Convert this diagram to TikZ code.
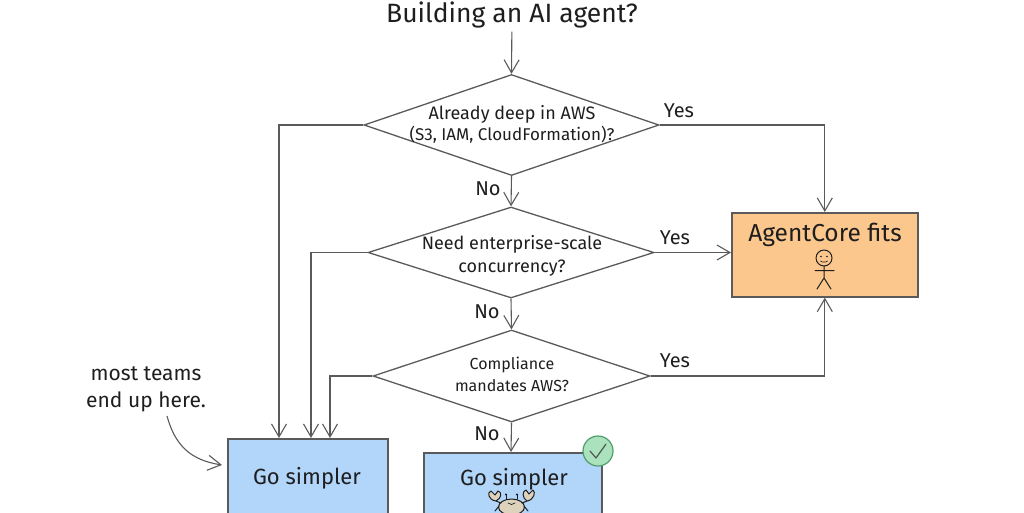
\documentclass[tikz,border=0pt]{standalone}
\usepackage{fontspec}
\setmainfont{Fira Sans}
\usetikzlibrary{shapes.geometric,arrows.meta}
\definecolor{ink}{HTML}{1E1E1E}
\definecolor{wire}{HTML}{5A5A5A}
\definecolor{orangefill}{HTML}{FBC78C}
\definecolor{bluefill}{HTML}{B2D5FA}
\definecolor{greenfill}{HTML}{A9E2BC}
\definecolor{greenedge}{HTML}{4F9C6E}
\definecolor{shellfill}{HTML}{DDD2BC}
\tikzset{
  x=1pt,y=-1pt,
  decision/.style={diamond,draw=wire,line width=1.3pt,fill=white,inner sep=0pt},
  asks/.style={text=ink,align=center,inner sep=0pt},
  outcome/.style={rectangle,draw=wire,line width=1.6pt,inner sep=0pt,anchor=north west},
  flow/.style={draw=wire,line width=1.1pt,-{Straight Barb[length=13pt,width=15pt,line width=1.1pt]}},
  branch/.style={text=ink,font=\fontsize{20}{22}\selectfont},
  note/.style={text=ink,align=center,font=\fontsize{21}{27}\selectfont},
  boxtitle/.style={text=ink,font=\fontsize{22}{24}\selectfont},
  sketch/.style={draw=ink,line width=1pt,line cap=round,line join=round},
}
\begin{document}
\begin{tikzpicture}
\useasboundingbox (0,0) rectangle (1024,512);
\clip (0,0) rectangle (1024,512);

% Question at the top of the flow
\node[text=ink,font=\fontsize{26.5}{28}\selectfont] (start) at (512,15) {Building an AI agent?};

% Decisions
\node[decision,minimum width=295pt,minimum height=101pt,shape aspect=2.92] (deep) at (511.5,125) {};
\node[decision,minimum width=286pt,minimum height=91pt,shape aspect=3.14] (scale) at (511,252.5) {};
\node[decision,minimum width=277pt,minimum height=92pt,shape aspect=3.01] (comply) at (511.5,376) {};
\node[asks,font=\fontsize{18}{21}\selectfont] (deeptext) at (512,124)
  {Already deep in AWS\\{\fontsize{17}{20}\selectfont (S3, IAM, CloudFormation)?}};
\node[asks,font=\fontsize{18}{23}\selectfont] (scaletext) at (512,256) {Need enterprise-scale\\concurrency?};
\node[asks,font=\fontsize{16}{22}\selectfont] (complytext) at (512,374) {Compliance\\mandates AWS?};

% Outcomes
\node[outcome,fill=orangefill,minimum width=186pt,minimum height=84pt] (core) at (731,212) {};
\node[outcome,fill=bluefill,minimum width=160pt,minimum height=90pt] (goleft) at (227,438) {};
\node[outcome,fill=bluefill,minimum width=178pt,minimum height=90pt] (gomid) at (423,452) {};
\node[boxtitle,font=\fontsize{24.5}{26}\selectfont] (coretitle) at (825,235) {AgentCore fits};
\node[boxtitle] (lefttitle) at (307,478) {Go simpler};
\node[boxtitle] (midtitle) at (514,479) {Go simpler};

% Entry points on the left outcome's top edge
\coordinate (inA) at (279,438);
\coordinate (inB) at (311,438);
\coordinate (inC) at (330,438);
\coordinate (midin) at (511,452);

% Connectors
\draw[flow] (start) -- (deep.north);
\draw[flow] (deep.south) -- (scale.north);
\draw[flow] (scale.south) -- (comply.north);
\draw[flow] (comply.south) -- (midin);
\draw[flow] (deep.east) -| (core.north);
\draw[flow] (scale.east) -- (scale.east -| core.west);
\draw[flow] (comply.east) -| (core.south);
\draw[flow] (deep.west) -| (inA);
\draw[flow] (scale.west) -| (inB);
\draw[flow] (comply.west) -| (inC);

% Branch labels
\node[branch] (yes1) at (679,111) {Yes};
\node[branch] (yes2) at (675,238) {Yes};
\node[branch] (yes3) at (675,361) {Yes};
\node[branch] (no1) at (488,189) {No};
\node[branch] (no2) at (487,312) {No};
\node[branch] (no3) at (487,434) {No};

% Side note and its pointer
\node[note] (remark) at (146,389) {most teams\\end up here.};
\coordinate (pointer) at (222,465);
\draw[flow] (167,416) .. controls (175,445) and (190,460) .. (pointer);

% Stick figure inside the AgentCore box
\draw[sketch] (824,258) circle (8);
\fill[ink] (821,256.5) circle (0.8) (827,256.5) circle (0.8);
\draw[sketch,line width=0.7pt] (820.5,261) .. controls (822,262.5) and (826,262.5) .. (827.5,261);
\draw[sketch] (824,266) -- (824,278) (815,270.5) -- (834,270.5)
  (824,278) -- (817,289) (824,278) -- (831,289);

% Crab inside the middle outcome
\draw[sketch,fill=shellfill] (511.5,507) ellipse (13 and 8);
\draw[sketch] (506,499) -- (506,495) (517,499) -- (517,495);
\fill[ink] (506,494.5) circle (1.2) (517,494.5) circle (1.2);
\draw[sketch,line width=0.7pt] (508,503) .. controls (510,505) and (513,505) .. (515,503);
\draw[sketch] (501,503) -- (496,501) (522,503) -- (527,501);
\draw[sketch,fill=shellfill] (496,501) .. controls (488,500) and (487,492) .. (491,491)
  -- (495,495) -- (498,491) .. controls (502,492) and (502,498) .. cycle;
\draw[sketch,fill=shellfill] (527,501) .. controls (534,500) and (536,492) .. (533,490)
  -- (529,494) -- (526,490) .. controls (522,491) and (522,498) .. cycle;
\draw[sketch] (499,506) -- (495,511) (524,506) -- (528,511);

% Check badge on the corner of the middle outcome
\node[circle,draw=greenedge,fill=greenfill,line width=1.2pt,minimum size=30pt,inner sep=0pt] (badge) at (598,451) {};
\draw[draw=ink!75,line width=1.2pt,line cap=round,line join=round] (590,451) -- (596,458) -- (606,444);
\end{tikzpicture}
\end{document}
